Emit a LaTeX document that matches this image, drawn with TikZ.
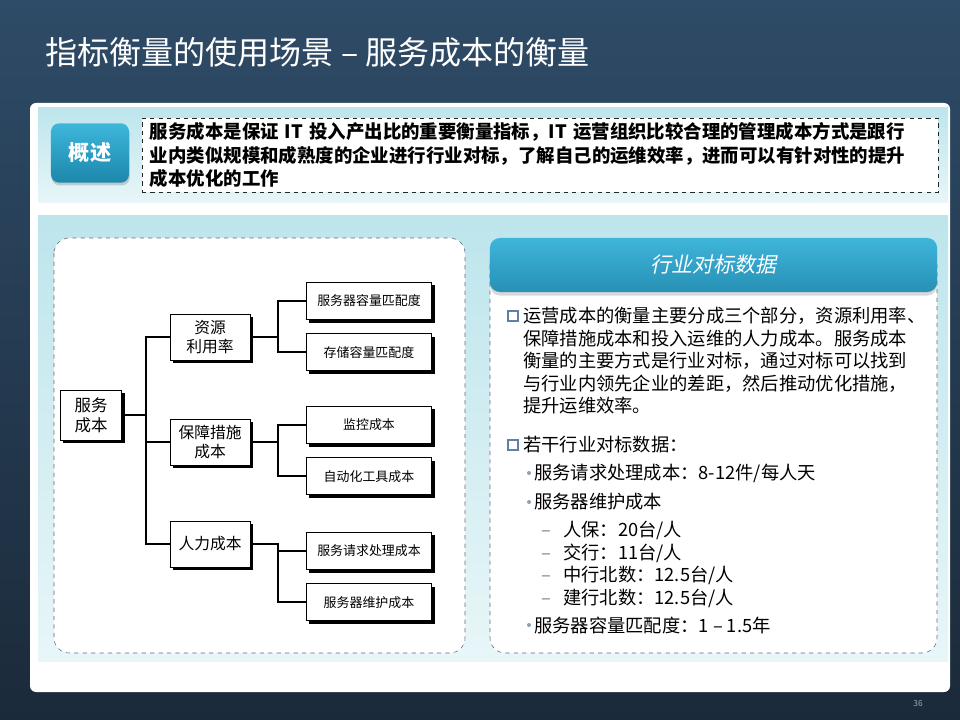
\documentclass[tikz,border=0pt]{standalone}
\usepackage{fontspec}
\setmainfont{Noto Sans CJK SC}
\newfontfamily\headfont{Noto Sans CJK SC}[FakeSlant=0.2]
\usetikzlibrary{positioning, calc, shadows, backgrounds}
\definecolor{bgtop}{HTML}{2E4B67}
\definecolor{bgbot}{HTML}{1B2A3A}
\definecolor{bandtop}{HTML}{BDE5EC}
\definecolor{bandbot}{HTML}{E8F6F8}
\definecolor{btntop}{HTML}{3DB7DB}
\definecolor{btnbot}{HTML}{1C87AB}
\definecolor{hdrtop}{HTML}{3FB5DA}
\definecolor{hdrbot}{HTML}{2790B5}
\definecolor{dashgray}{HTML}{5F6B77}
\definecolor{sqblue}{HTML}{5F80A8}
\definecolor{dotgray}{HTML}{8EA2B2}
\definecolor{dashmk}{HTML}{7A8590}
\definecolor{numgray}{HTML}{9AA8B5}
\newcommand{\subdash}{\makebox[0.55cm][l]{\textcolor{dashmk}{–}}}

\begin{document}
\begin{tikzpicture}[
    x=0.025cm, y=-0.025cm,
    title/.style={text=white, inner sep=0pt, font=\fontsize{22.8pt}{26pt}\selectfont},
    btn/.style={
        rounded corners=0.2cm,
        top color=btntop, bottom color=btnbot,
        text=white,
        minimum width=1.95cm, minimum height=1.48cm,
        font=\fontsize{15pt}{18pt}\selectfont\bfseries,
        drop shadow={shadow xshift=0.5pt, shadow yshift=-2pt, opacity=0.35}
    },
    sumbox/.style={
        draw=black!85, dashed, fill=white,
        text width=19.5cm, inner xsep=0.2cm,
        minimum height=1.75cm, align=left,
        font=\fontsize{13.1pt}{16.5pt}\selectfont\bfseries
    },
    dashbox/.style={draw=dashgray, dashed, fill=white, rounded corners=0.38cm},
    hdr/.style={
        rounded corners=0.25cm,
        top color=hdrtop, bottom color=hdrbot,
        text=white,
        minimum width=11.18cm, minimum height=1.35cm,
        font=\headfont\fontsize{15pt}{18pt}\selectfont,
        drop shadow={shadow xshift=0pt, shadow yshift=-2.5pt, opacity=0.3}
    },
    treebox/.style={
        draw=black, line width=0.6pt, fill=white,
        align=center, inner sep=1pt,
        drop shadow={shadow xshift=2.2pt, shadow yshift=-2.2pt, opacity=1, fill=black}
    },
    rootbox/.style={treebox, minimum width=1.53cm, minimum height=1.25cm, font=\fontsize{11.7pt}{14pt}\selectfont},
    midbox/.style={treebox, minimum width=2cm, minimum height=1.15cm, font=\fontsize{11.2pt}{13.5pt}\selectfont},
    leafbox/.style={treebox, minimum width=3.13cm, minimum height=0.93cm, font=\fontsize{9.2pt}{11pt}\selectfont},
    link/.style={line width=1.4pt},
    sqbul/.style={draw=sqblue, line width=1.6pt, minimum size=0.26cm, inner sep=0pt},
    dotbul/.style={circle, fill=dotgray, minimum size=0.1cm, inner sep=0pt},
    bodytxt/.style={inner sep=0pt, align=left, font=\fontsize{13pt}{16pt}\selectfont},
    pgnum/.style={text=numgray, font=\fontsize{6pt}{7pt}\selectfont}
]

\useasboundingbox (0,0) rectangle (960,720);
\fill[top color=bgtop, bottom color=bgbot] (0,0) rectangle (960,720);

\node[title, anchor=west] (ttl) at (45,52) {指标衡量的使用场景 – 服务成本的衡量};

% slide panel and bands
\fill[white, rounded corners=0.15cm] (30,103) rectangle (950,692);
\fill[top color=bandtop, bottom color=bandbot] (38,108) rectangle (948,203);
\fill[top color=bandtop, bottom color=bandbot] (38,216) rectangle (948,661);

% overview
\node[btn] (ovw) at (90,153) {概述};
\node[sumbox] (sum) at (540,155) {服务成本是保证 IT 投入产出比的重要衡量指标，IT 运营组织比较合理的管理成本方式是跟行\\
业内类似规模和成熟度的企业进行行业对标，了解自己的运维效率，进而可以有针对性的提升\\
成本优化的工作};

% cost tree
\draw[dashbox] (54,238) rectangle (465,653);

\node[rootbox] (svc) at (91,415) {服务\\成本};
\node[midbox] (res) at (210,337) {资源\\利用率};
\node[midbox] (grd) at (210,442) {保障措施\\成本};
\node[midbox] (man) at (210,544) {人力成本};

\node[leafbox] (srvcap) at (369,301) {服务器容量匹配度};
\node[leafbox, below=0.33cm of srvcap] (stocap) {存储容量匹配度};
\node[leafbox] (mon) at (369,425) {监控成本};
\node[leafbox, below=0.33cm of mon] (tool) {自动化工具成本};
\node[leafbox] (req) at (369,551) {服务请求处理成本};
\node[leafbox, below=0.33cm of req] (maint) {服务器维护成本};

\draw[link] (svc.east) -- ++(24,0) |- (res.west);
\draw[link] (svc.east) -- ++(24,0) |- (grd.west);
\draw[link] (svc.east) -- ++(24,0) |- (man.west);

\draw[link] (res.east) -- ++(28,0) |- (srvcap.west);
\draw[link] (res.east) -- ++(28,0) |- (stocap.west);
\draw[link] (grd.east) -- ++(28,0) |- (mon.west);
\draw[link] (grd.east) -- ++(28,0) |- (tool.west);
\draw[link] (man.east) -- ++(28,0) |- (req.west);
\draw[link] (man.east) -- ++(28,0) |- (maint.west);

% benchmark data
\draw[dashbox] (490,250) rectangle (937,653);
\node[hdr] (hd) at (713.5,265) {行业对标数据};

\node[sqbul] (sq1) at (513,316) {};
\node[bodytxt, anchor=north west] (p1) at (523,307) {运营成本的衡量主要分成三个部分，资源利用率、\\
保障措施成本和投入运维的人力成本。服务成本\\
衡量的主要方式是行业对标，通过对标可以找到\\
与行业内领先企业的差距，然后推动优化措施，\\
提升运维效率。};

\node[sqbul] (sq2) at (513,445) {};
\node[bodytxt, anchor=west] (p2) at (523,445) {若干行业对标数据：};

\node[dotbul] (d1) at (529,473) {};
\node[bodytxt, anchor=west] (b1) at (534,473) {服务请求处理成本：8-12件/每人天};
\node[dotbul] (d2) at (529,502) {};
\node[bodytxt, anchor=west] (b2) at (534,502) {服务器维护成本};
\node[bodytxt, anchor=north west] (sub) at (541,521) {\subdash 人保：20台/人\\
\subdash 交行：11台/人\\
\subdash 中行北数：12.5台/人\\
\subdash 建行北数：12.5台/人};
\node[dotbul] (d3) at (529,625) {};
\node[bodytxt, anchor=west] (b3) at (534,625) {服务器容量匹配度：1 – 1.5年};

\node[pgnum] (pg) at (918,703) {36};

\end{tikzpicture}
\end{document}
